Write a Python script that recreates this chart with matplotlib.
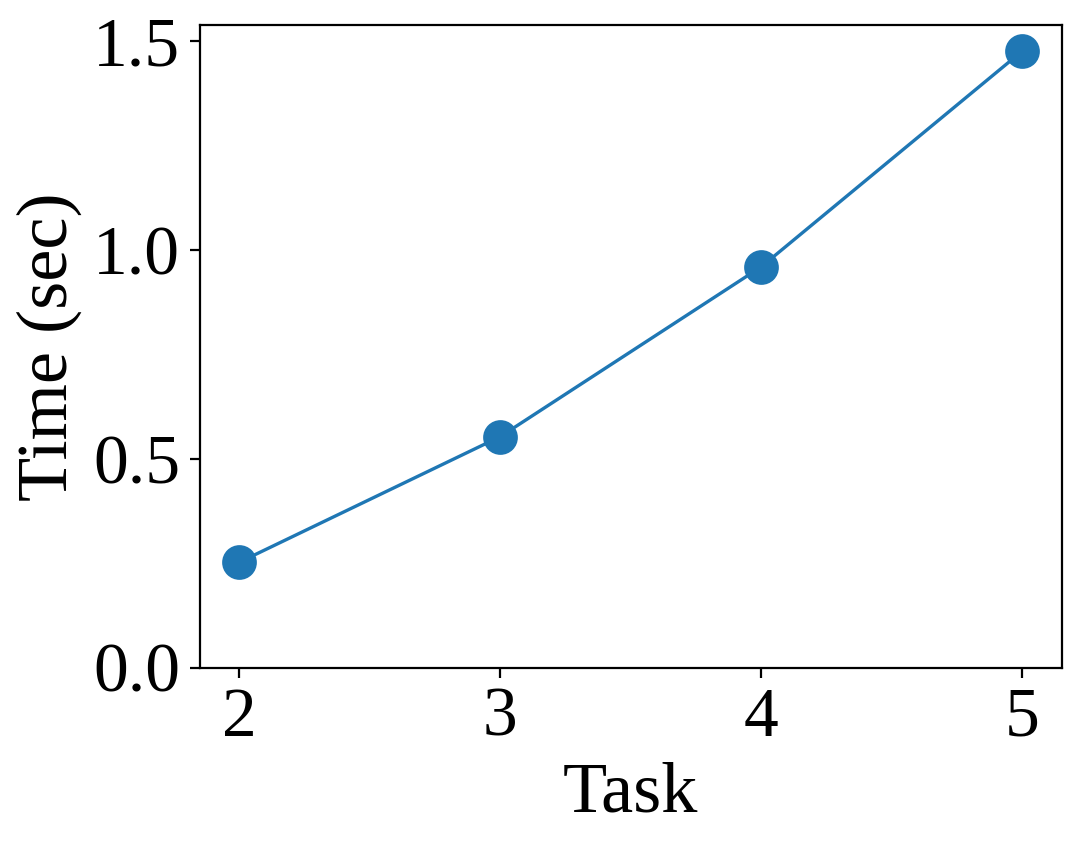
import matplotlib
matplotlib.use("Agg")
import matplotlib.pyplot as plt

tasks = [2, 3, 4, 5]
times = [0.252, 0.553, 0.960, 1.477]

plt.rcParams.update({
    "font.family": "serif",
    "font.serif": ["Liberation Serif", "Times New Roman", "DejaVu Serif"],
    "font.size": 25,
    "axes.labelsize": 26,
})

fig, ax = plt.subplots(figsize=(5.4, 4.22), dpi=200)
ax.plot(tasks, times, marker="o", markersize=11.5, lw=1.2, color="#1f77b4")
ax.set_ylim(bottom=0)
ax.set_xticks(tasks)
ax.set_yticks([0.0, 0.5, 1.0, 1.5])
ax.set_xlabel("Task")
ax.set_ylabel("Time (sec)")
fig.subplots_adjust(left=0.185, right=0.983, top=0.970, bottom=0.209)
fig.savefig("out.png", dpi=200)
